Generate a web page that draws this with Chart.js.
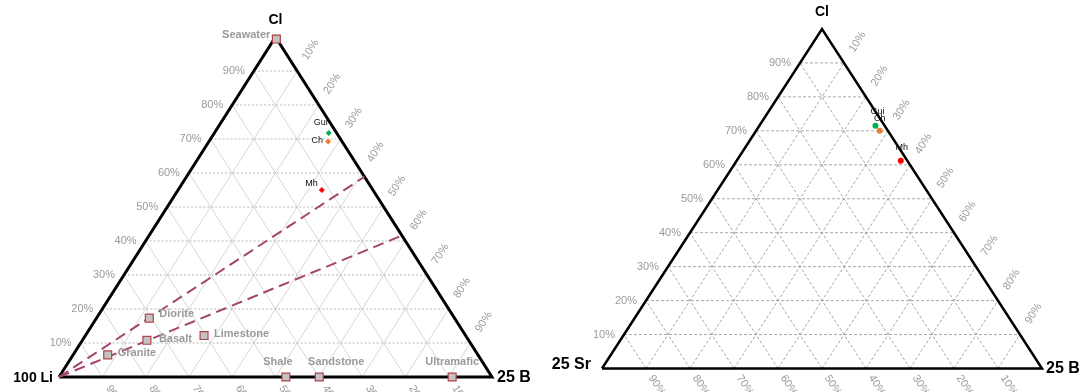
<!DOCTYPE html>
<html>
<head>
<meta charset="utf-8">
<script src="https://cdn.jsdelivr.net/npm/chart.js@4.4.1/dist/chart.umd.min.js"></script>
<style>
  body { margin: 0; background: #fff; }
  canvas { position: absolute; top: 0; }
  #liChart { left: 0; }
  #srChart { left: 543px; }
</style>
</head>
<body>
<canvas id="liChart" width="543" height="392"></canvas>
<canvas id="srChart" width="543" height="392"></canvas>
<script>
// Grid steps / tick labels (same on all three axes)
const gridSteps = [10, 20, 30, 40, 50, 60, 70, 80, 90];
const tickLabels = gridSteps.map((p) => p + "%");

// Left diagram: Cl (top) - 100 Li (left) - 25 B (right), values as fractions
const rockNames = ["Seawater", "Diorite", "Basalt", "Granite", "Limestone", "Shale", "Sandstone", "Ultramafic"];
const rockCl = [0.994, 0.173, 0.108, 0.065, 0.122, 0, 0, 0];
const rockB = [0.005, 0.122, 0.149, 0.080, 0.274, 0.524, 0.601, 0.908];

const sampleNames = ["Gui", "Ch", "Mh"];
const liSampleCl = [0.718, 0.693, 0.550];
const liSampleB = [0.264, 0.275, 0.332];

// mixing lines from the Li corner to the Cl-B edge
const mixCl = [0.589, 0.416];
const mixB = [0.411, 0.584];

// Right diagram: Cl (top) - 25 Sr (left) - 25 B (right)
const srSampleCl = [0.715, 0.700, 0.612];
const srSampleB = [0.264, 0.281, 0.373];

const sampleColors = ["#00b050", "#ed7d31", "#ff0000"];
const FONT = "'Liberation Sans', Arial, sans-serif";

// ternary (cl, b) -> data coordinates of the x/y scales
function toXY(cl, b) {
  return { x: b + cl * 0.5, y: cl };
}

function lineSet(points, color, width, dash, order) {
  return {
    data: points,
    showLine: true,
    borderColor: color,
    borderWidth: width,
    borderDash: dash,
    pointRadius: 0,
    fill: false,
    clip: false,
    order: order,
  };
}

function gridSets(hColor, hDash, dColor, dDash) {
  let sets = [];
  gridSteps.forEach((p) => {
    let v = p / 100;
    sets.push(lineSet([toXY(v, 0), toXY(v, 1 - v)], hColor, 1, hDash, 9));
    sets.push(lineSet([toXY(0, v), toXY(1 - v, v)], dColor, 1, dDash, 10));
    sets.push(lineSet([toXY(0, 1 - v), toXY(1 - v, 0)], dColor, 1, dDash, 10));
  });
  return sets;
}

function outlineSet(width) {
  let s = lineSet([toXY(0, 0), toXY(0, 1), toXY(1, 0), toXY(0, 0)], "#000", width, [], 5);
  s.borderJoinStyle = "miter";
  return s;
}

// draws tick labels, corner names and point labels
function textPlugin(opts) {
  return {
    id: "ternaryText",
    afterDatasetsDraw(chart) {
      const ctx = chart.ctx;
      const xs = chart.scales.x;
      const ys = chart.scales.y;
      const px = (cl, b) => {
        let d = toXY(cl, b);
        return { x: xs.getPixelForValue(d.x), y: ys.getPixelForValue(d.y) };
      };
      const L = px(0, 0);
      const R = px(0, 1);
      const T = px(1, 0);
      const leftAng = Math.atan2(L.y - T.y, T.x - L.x);
      const rightAng = Math.atan2(R.y - T.y, R.x - T.x);

      ctx.save();
      ctx.fillStyle = "#9a9a9a";
      ctx.font = "11px " + FONT;
      ctx.textBaseline = "middle";
      gridSteps.forEach((p, i) => {
        let v = p / 100;
        // Cl labels on the left edge
        let a = px(v, 0);
        ctx.textAlign = "right";
        ctx.fillText(tickLabels[i], a.x - 9, a.y);
        // B labels on the right edge
        let r = px(1 - v, v);
        ctx.save();
        ctx.translate(r.x + opts.rightDist * Math.cos(leftAng), r.y - opts.rightDist * Math.sin(leftAng));
        ctx.rotate(-leftAng);
        ctx.textAlign = "center";
        ctx.fillText(tickLabels[i], 0, 0);
        ctx.restore();
        // left-corner labels on the bottom edge
        let bt = px(0, 1 - v);
        ctx.save();
        ctx.translate(bt.x + opts.bottomDist * Math.cos(rightAng), bt.y + opts.bottomDist * Math.sin(rightAng));
        ctx.rotate(rightAng);
        ctx.textAlign = "center";
        ctx.fillText(tickLabels[i], 0, 0);
        ctx.restore();
      });

      // corner names
      ctx.fillStyle = "#000";
      ctx.font = "bold 14px " + FONT;
      ctx.textAlign = "center";
      ctx.fillText("Cl", T.x, T.y - 17);
      ctx.font = opts.leftFont + FONT;
      ctx.textAlign = "right";
      ctx.fillText(opts.leftName, L.x + opts.leftNameDx, L.y + opts.leftNameDy);
      ctx.font = "bold 16px " + FONT;
      ctx.textAlign = "left";
      ctx.fillText("25 B", R.x + opts.rightNameDx, R.y + opts.rightNameDy);

      // point labels
      opts.labels.forEach((lb) => {
        let q = px(lb.cl, lb.b);
        ctx.font = lb.font + FONT;
        ctx.fillStyle = lb.color;
        ctx.textAlign = lb.align;
        ctx.fillText(lb.text, q.x + lb.dx, q.y + lb.dy);
      });
      ctx.restore();
    },
  };
}

const baseOptions = (padding) => ({
  responsive: false,
  animation: false,
  events: [],
  layout: { padding: padding },
  plugins: { legend: { display: false }, tooltip: { enabled: false } },
  scales: {
    x: { type: "linear", min: 0, max: 1, display: false },
    y: { type: "linear", min: 0, max: 1, display: false },
  },
});

// ---------- left diagram ----------
const rockOffsets = [
  { dx: -6, dy: -4, align: "right" },
  { dx: 10, dy: -4, align: "left" },
  { dx: 12, dy: -1, align: "left" },
  { dx: 10, dy: -2, align: "left" },
  { dx: 10, dy: -2, align: "left" },
  { dx: -8, dy: -15, align: "center" },
  { dx: 17, dy: -15, align: "center" },
  { dx: 0, dy: -15, align: "center" },
];
const liSampleOffsets = [
  { dx: -1, dy: -10, align: "right" },
  { dx: -5, dy: -1, align: "right" },
  { dx: -4, dy: -6, align: "right" },
];

let liLabels = [];
rockNames.forEach((n, i) => {
  liLabels.push(Object.assign({ text: n, cl: rockCl[i], b: rockB[i], font: "bold 11px ", color: "#9a9a9a" }, rockOffsets[i]));
});
sampleNames.forEach((n, i) => {
  liLabels.push(Object.assign({ text: n, cl: liSampleCl[i], b: liSampleB[i], font: "9px ", color: "#111" }, liSampleOffsets[i]));
});

let liDatasets = [
  {
    data: sampleNames.map((n, i) => toXY(liSampleCl[i], liSampleB[i])),
    pointStyle: "rectRot",
    pointRadius: 3,
    backgroundColor: sampleColors,
    borderColor: sampleColors,
    borderWidth: 0,
    clip: false,
    order: 0,
  },
  {
    data: rockNames.map((n, i) => toXY(rockCl[i], rockB[i])),
    pointStyle: "rect",
    pointRadius: 5.6,
    backgroundColor: "#c3c3c3",
    borderColor: "#b0444a",
    borderWidth: 1.2,
    clip: false,
    order: 1,
  },
];
mixCl.forEach((c, i) => {
  liDatasets.push(lineSet([toXY(0, 0), toXY(c, mixB[i])], "#a3456f", 2, [11, 6], 3));
});
liDatasets.push(outlineSet(3));
liDatasets = liDatasets.concat(gridSets("#b4b4b4", [2, 2], "#d6d6d6", []));

new Chart(document.getElementById("liChart"), {
  type: "scatter",
  data: { datasets: liDatasets },
  options: baseOptions({ left: 59, right: 51, top: 37, bottom: 15 }),
  plugins: [
    textPlugin({
      rightDist: 25,
      bottomDist: 22,
      leftName: "100 Li",
      leftFont: "bold 14px ",
      leftNameDx: -6,
      leftNameDy: 1,
      rightNameDx: 5,
      rightNameDy: 1,
      labels: liLabels,
    }),
  ],
});

// ---------- right diagram ----------
const srSampleOffsets = [
  { dx: 2, dy: -14, align: "center" },
  { dx: 0, dy: -12, align: "center" },
  { dx: 1, dy: -13, align: "center" },
];
let srLabels = sampleNames.map((n, i) =>
  Object.assign({ text: n, cl: srSampleCl[i], b: srSampleB[i], font: "9px ", color: "#111" }, srSampleOffsets[i])
);

let srDatasets = [
  {
    data: sampleNames.map((n, i) => toXY(srSampleCl[i], srSampleB[i])),
    pointStyle: "circle",
    pointRadius: 3,
    backgroundColor: sampleColors,
    borderWidth: 0,
    clip: false,
    order: 0,
  },
  outlineSet(2.5),
];
srDatasets = srDatasets.concat(gridSets("#a8a8a8", [3, 2], "#a8a8a8", [3, 2]));

new Chart(document.getElementById("srChart"), {
  type: "scatter",
  data: { datasets: srDatasets },
  options: baseOptions({ left: 59, right: 44, top: 29, bottom: 23.5 }),
  plugins: [
    textPlugin({
      rightDist: 25,
      bottomDist: 20,
      leftName: "25 Sr",
      leftFont: "bold 16px ",
      leftNameDx: -11,
      leftNameDy: -4,
      rightNameDx: 4,
      rightNameDy: 0,
      labels: srLabels,
    }),
  ],
});
</script>
</body>
</html>
